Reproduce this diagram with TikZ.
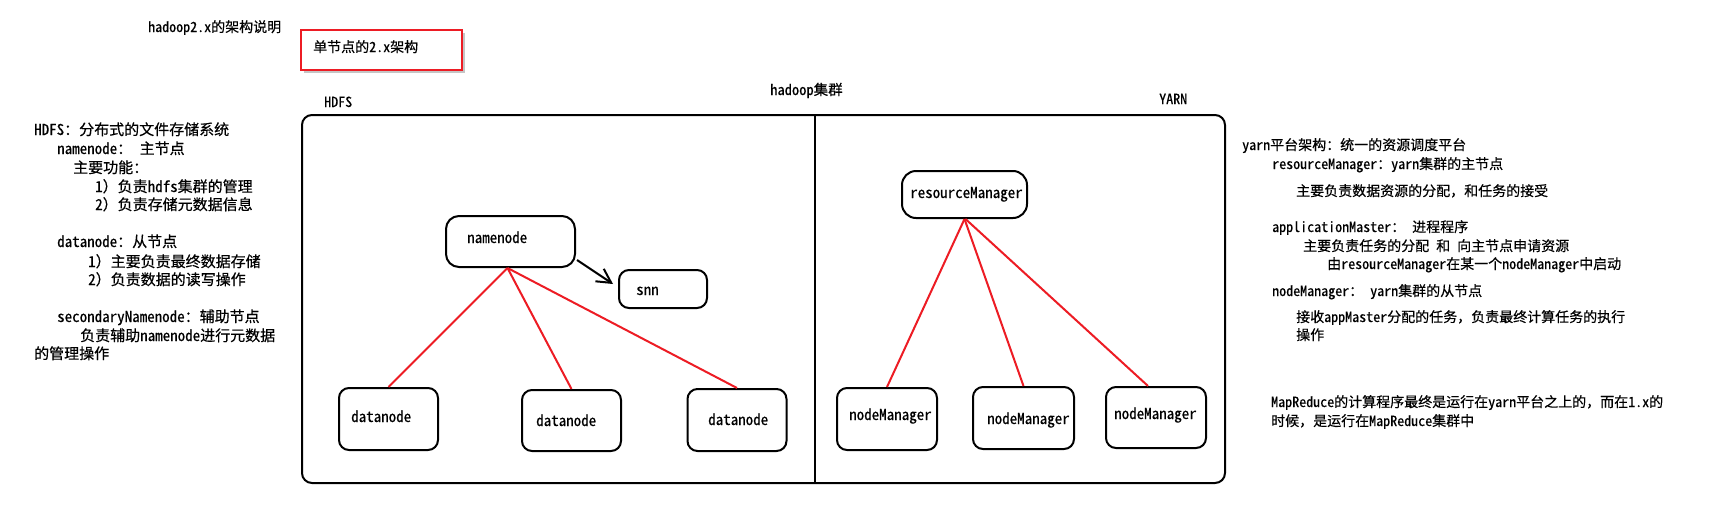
\documentclass[tikz,border=0pt]{standalone}
\usepackage{fontspec}
\setmainfont{Noto Sans Mono CJK SC}[FakeBold=0.45]
\usetikzlibrary{arrows.meta,shadows,calc}
\definecolor{pred}{RGB}{237,28,36}
\begin{document}
\begin{tikzpicture}[x=1pt,y=-1pt,
  txt/.style={anchor=base west, inner sep=0pt, font=\fontsize{14}{16}\selectfont},
  big/.style={txt, font=\fontsize{15}{17}\selectfont},
  box/.style={draw, line width=2pt, rounded corners=10pt, inner sep=0pt},
  link/.style={draw=pred, line width=2pt},
  arr/.style={draw, line width=2pt, -{Straight Barb[length=14pt,width=15pt]}},
]
\useasboundingbox[fill=white] (0,0) rectangle (1726,522);

% title
\node[txt] (title) at (148,32) {hadoop2.x的架构说明};
\node[draw=pred, line width=2pt, minimum width=161, minimum height=40, inner sep=0pt,
  fill=white, drop shadow={opacity=0.5, fill=black!45, shadow xshift=3pt, shadow yshift=-3pt}] (tbox) at (381.5,50) {};
\node[txt] (ttext) at (313,52) {单节点的2.x架构};

% cluster labels
\node[txt] (hdfsl) at (324,107) {HDFS};
\node[txt, font=\fontsize{14.5}{16}\selectfont] (clus) at (770,95) {hadoop集群};
\node[txt] (yarnl) at (1159,104) {YARN};

% outer box
\node[box, minimum width=923, minimum height=368] (cluster) at (763.5,299) {};
\coordinate (dtop) at (815,115);
\coordinate (dbot) at (815,483);
\draw[line width=2pt] (dtop) -- (dbot);

% HDFS side
\node[box, rounded corners=13pt, minimum width=129, minimum height=51] (nn) at (510.5,241.5) {};
\node[big] (nnt) at (467,243) {namenode};
\node[box, minimum width=88, minimum height=38] (snn) at (663,289) {};
\node[big] (snnt) at (636,295) {snn};
\node[box, minimum width=99, minimum height=62] (dn1) at (388.5,419) {};
\node[big] (dn1t) at (351,422) {datanode};
\node[box, minimum width=99, minimum height=61] (dn2) at (571.5,420.5) {};
\node[big] (dn2t) at (536,426) {datanode};
\node[box, minimum width=99, minimum height=62] (dn3) at (737,420) {};
\node[big] (dn3t) at (708,425) {datanode};

\draw[arr] ($(nn.south east)+(1,-8)$) -- ($(snn.west)+(-5,-5)$);
\draw[link] ($(nn.south)+(-3,0)$) -- (dn1.north);
\draw[link] ($(nn.south)+(-3,0)$) -- (dn2.north);
\draw[link] ($(nn.south)+(-3,0)$) -- (dn3.north);

% YARN side
\node[box, rounded corners=14pt, minimum width=125, minimum height=47] (rm) at (964.5,194.5) {};
\node[big] (rmt) at (910,198) {resourceManager};
\node[box, minimum width=100, minimum height=62] (nm1) at (887,419) {};
\node[big] (nm1t) at (849,420) {nodeManager};
\node[box, minimum width=101, minimum height=62] (nm2) at (1023.5,418) {};
\node[big] (nm2t) at (987,424) {nodeManager};
\node[box, minimum width=100, minimum height=61] (nm3) at (1156,417.5) {};
\node[big] (nm3t) at (1114,419) {nodeManager};

\draw[link] (rm.south) -- (nm1.north);
\draw[link] (rm.south) -- (nm2.north);
\draw[link] ($(rm.south)+(1,0)$) -- ($(nm3.north)+(-8,0)$);

% left notes
\node[big] (l1) at (34,135) {HDFS：分布式的文件存储系统};
\node[big] (l2) at (57,154) {namenode：  主节点};
\node[big] (l3) at (73,173) {主要功能：};
\node[big] (l4) at (95,192) {1）负责hdfs集群的管理};
\node[big] (l5) at (95,210) {2）负责存储元数据信息};
\node[big] (l6) at (57,247) {datanode：从节点};
\node[big] (l7) at (88,267) {1）主要负责最终数据存储};
\node[big] (l8) at (88,285) {2）负责数据的读写操作};
\node[big] (l9) at (57,322) {secondaryNamenode：辅助节点};
\node[big] (l10) at (80,341) {负责辅助namenode进行元数据};
\node[big] (l11) at (34,359) {的管理操作};

% right notes
\node[txt] (r1) at (1242,150) {yarn平台架构：统一的资源调度平台};
\node[txt] (r2) at (1272,169) {resourceManager：yarn集群的主节点};
\node[txt] (r3) at (1296,196) {主要负责数据资源的分配，和任务的接受};
\node[txt] (r4) at (1272,232) {applicationMaster：  进程程序};
\node[txt] (r5) at (1303,251) {主要负责任务的分配 和 向主节点申请资源};
\node[txt] (r6) at (1327,269) {由resourceManager在某一个nodeManager中启动};
\node[txt] (r7) at (1272,296) {nodeManager：  yarn集群的从节点};
\node[txt] (r8) at (1296,322) {接收appMaster分配的任务，负责最终计算任务的执行};
\node[txt] (r9) at (1296,340) {操作};
\node[txt] (r10) at (1271,407) {MapReduce的计算程序最终是运行在yarn平台之上的，而在1.x的};
\node[txt] (r11) at (1271,426) {时候，是运行在MapReduce集群中};
\end{tikzpicture}
\end{document}
